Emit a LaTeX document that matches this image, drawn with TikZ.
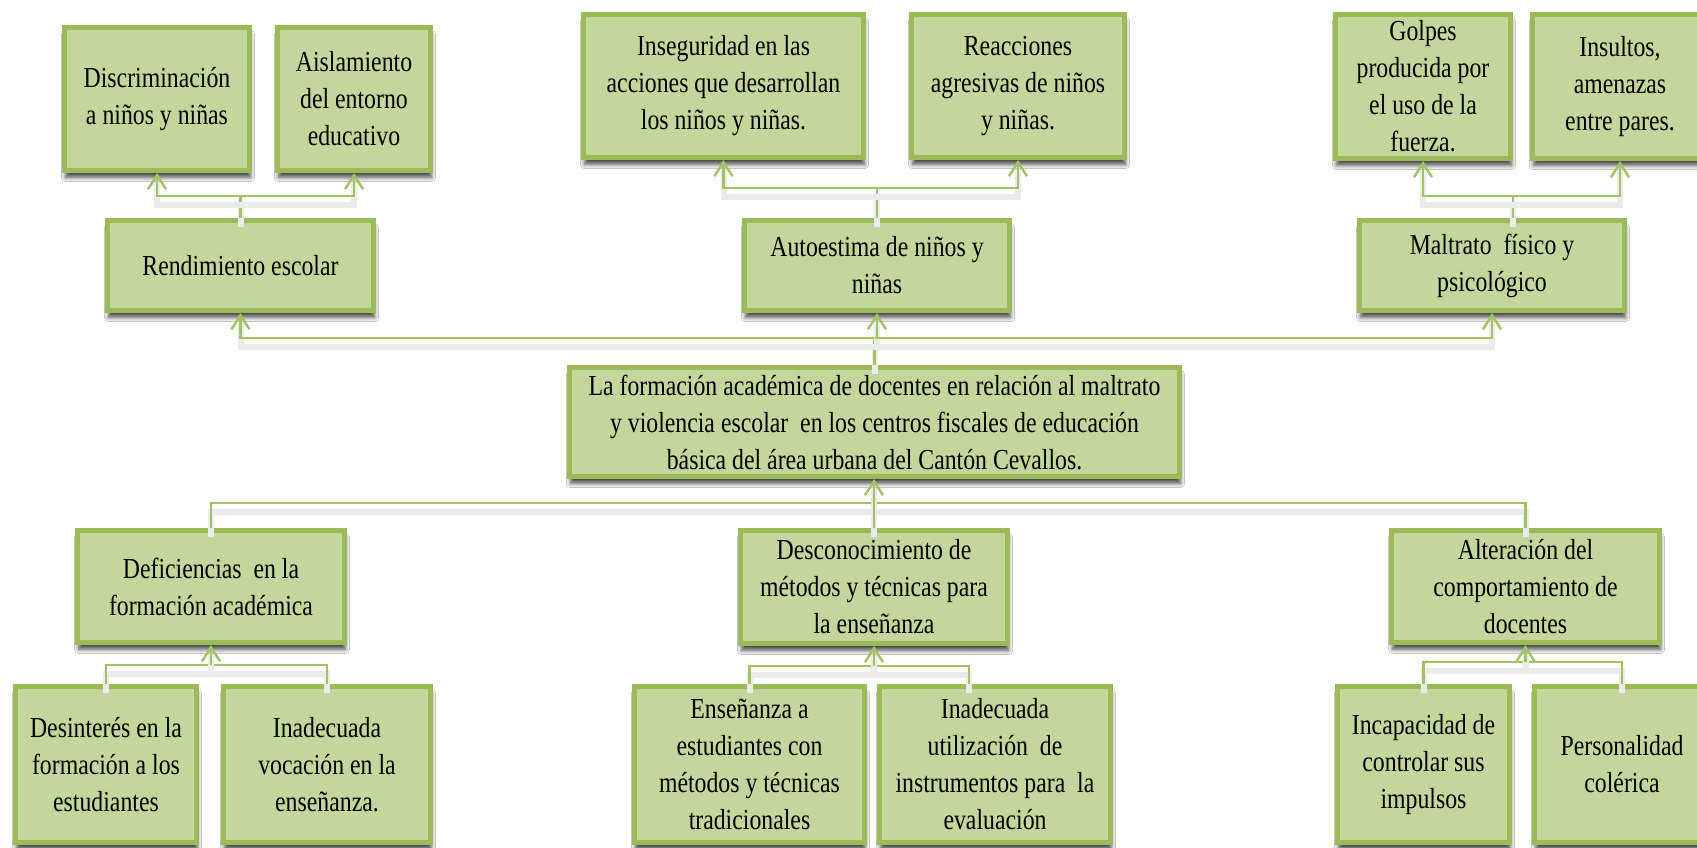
\documentclass[tikz,border=0pt]{standalone}
\usepackage{fontspec}
\setmainfont[FakeStretch=0.82]{Liberation Serif}
\usetikzlibrary{arrows.meta,shadows.blur}
\definecolor{boxfill}{HTML}{C3D69B}
\definecolor{boxline}{HTML}{9BBB59}
\definecolor{connline}{HTML}{A2C266}
\tikzset{
  box/.style={draw=boxline, fill=boxfill, line width=4.8pt, inner sep=0pt, align=center,
    text=black, font=\fontsize{29}{37}\selectfont,
    blur shadow={shadow xshift=1pt, shadow yshift=-7pt, shadow opacity=70, shadow blur steps=8, shadow blur radius=4pt}},
  conn/.style={draw=connline, line width=2.2pt,
    preaction={draw=black!8, line width=6pt, arrows=-, transform canvas={yshift=-9pt}}},
  arr/.style={conn, -{Straight Barb[length=14pt,width=18pt,line width=2.4pt]}},
}
\newcommand\bx[6]{\node[box, minimum width={#4-#2-4.8}, minimum height={#5-#3-4.8}] (#1) at ({(#2+#4)/2},{(#3+#5)/2}) {#6};}
\begin{document}
\begin{tikzpicture}[x=1pt,y=-1pt]
\useasboundingbox (0,0) rectangle (1697,848);
\fill[white] (0,0) rectangle (1697,848);
\clip (0,0) rectangle (1697,848);
% effects
\bx{disc}{62}{25}{252}{173}{Discriminación\\a niños y niñas}
\bx{aisl}{275}{25}{433}{173}{Aislamiento\\del entorno\\educativo}
\bx{rend}{105}{218}{376}{313}{Rendimiento escolar}
\bx{inseg}{581}{12}{866}{160}{Inseguridad en las\\acciones que desarrollan\\los niños y niñas.}
\bx{reac}{909}{12}{1127}{160}{Reacciones\\agresivas de niños\\y niñas.}
\bx{auto}{742}{218}{1012}{313}{Autoestima de niños y\\niñas}
\bx{golpes}{1333}{12}{1513}{161}{Golpes\\producida por\\el uso de la\\fuerza.}
\bx{insultos}{1530}{12}{1710}{161}{Insultos,\\amenazas\\entre pares.}
\bx{maltr}{1357}{218}{1627}{313}{Maltrato\ \ físico y\\psicológico}
% problem
\bx{main}{567}{365}{1182}{479}{La formación académica de docentes en relación al maltrato\\y violencia escolar\ \ en los centros fiscales de educación\\básica del área urbana del Cantón Cevallos.}
% causes
\bx{defic}{75}{528}{347}{645}{Deficiencias\ \ en la\\formación académica}
\bx{descon}{738}{528}{1010}{646}{Desconocimiento de\\métodos y técnicas para\\la enseñanza}
\bx{alter}{1389}{528}{1662}{645}{Alteración del\\comportamiento de\\docentes}
\bx{desint}{13}{684}{199}{845}{Desinterés en la\\formación a los\\estudiantes}
\bx{inadvoc}{221}{684}{433}{845}{Inadecuada\\vocación en la\\enseñanza.}
\bx{ensen}{632}{684}{867}{845}{Enseñanza a\\estudiantes con\\métodos y técnicas\\tradicionales}
\bx{inadutil}{877}{684}{1113}{845}{Inadecuada\\utilización\ \ de\\instrumentos para\ \ la\\evaluación}
\bx{incap}{1335}{684}{1512}{845}{Incapacidad de\\controlar sus\\impulsos}
\bx{person}{1532}{684}{1712}{845}{Personalidad\\colérica}
% connectors: effects
\draw[conn] (rend.north) -- ++(0,-22) coordinate (jR);
\draw[arr] (jR) -| (disc.south);
\draw[arr] (jR) -| (aisl.south);
\draw[conn] (auto.north) -- ++(0,-30) coordinate (jA);
\draw[arr] (jA) -| (inseg.south);
\draw[arr] (jA) -| (reac.south);
\draw[conn] ([xshift=21pt]maltr.north) -- ++(0,-22) coordinate (jM);
\draw[arr] (jM) -| (golpes.south);
\draw[arr] (jM) -| (insultos.south);
\draw[conn] (main.north) -- ++(0,-27) coordinate (jT);
\draw[arr] (jT) -| (rend.south);
\draw[arr] (jT) -| (auto.south);
\draw[arr] (jT) -| (maltr.south);
% connectors: causes
\path (main.south) ++(0,24) coordinate (jB);
\draw[conn] (defic.north) |- (jB);
\draw[conn] (alter.north) |- (jB);
\draw[arr] (descon.north) -- (descon.north |- main.south);
\path (defic.south) ++(0,20) coordinate (jD);
\draw[conn] (desint.north) |- (jD);
\draw[conn] (inadvoc.north) |- (jD);
\draw[arr] (jD) -- (defic.south);
\path (descon.south) ++(0,20) coordinate (jE);
\draw[conn] (ensen.north) |- (jE);
\draw[conn] ([xshift=-26pt]inadutil.north) |- (jE);
\draw[arr] (jE) -- (descon.south);
\path (alter.south) ++(0,17) coordinate (jF);
\draw[conn] (incap.north) |- (jF);
\draw[conn] (person.north) |- (jF);
\draw[arr] (jF) -- (alter.south);
\end{tikzpicture}
\end{document}
